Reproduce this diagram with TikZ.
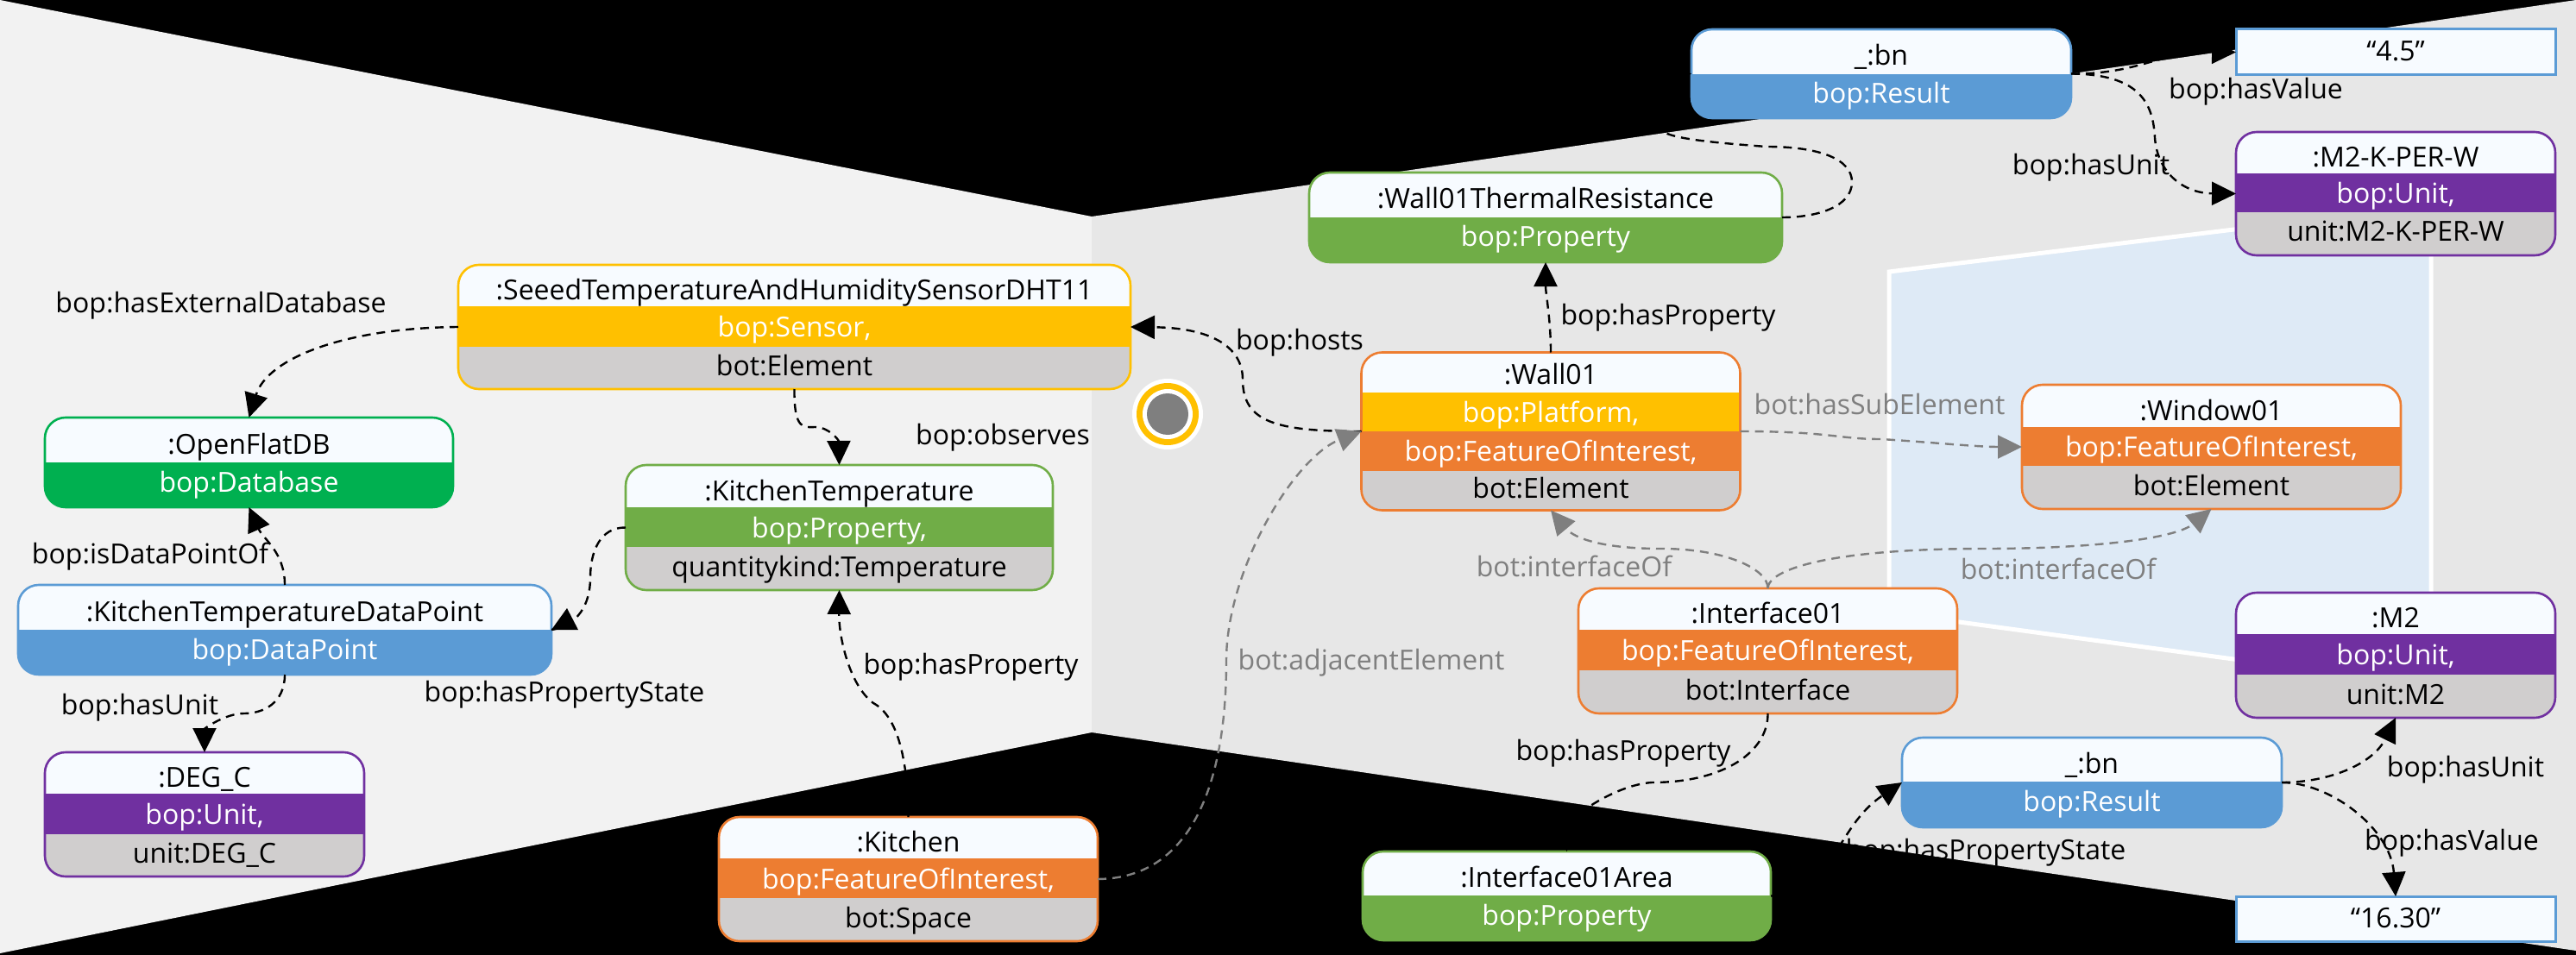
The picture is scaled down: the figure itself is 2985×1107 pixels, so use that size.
\documentclass[tikz,border=0pt]{standalone}
\usepackage{fontspec}
\setmainfont{Open Sans}
\usetikzlibrary{arrows.meta}
\definecolor{cOrange}{HTML}{ED7D31}
\definecolor{cYellow}{HTML}{FFC000}
\definecolor{cBlue}{HTML}{5B9BD5}
\definecolor{cGreen}{HTML}{70AD47}
\definecolor{cDbGreen}{HTML}{00B050}
\definecolor{cPurple}{HTML}{7030A0}
\definecolor{cBand}{HTML}{D0CECE}
\definecolor{cTop}{HTML}{F7FBFF}
\definecolor{cLeftWall}{HTML}{F2F2F2}
\definecolor{cRightWall}{HTML}{E7E7E7}
\definecolor{cWindow}{HTML}{DEEAF6}
\definecolor{cLink}{HTML}{7F7F7F}
\tikzset{
  objbox/.style={rectangle,rounded corners=24pt,line width=2.6pt,inner sep=0pt,outer sep=0pt,fill=cTop},
  litbox/.style={rectangle,line width=3pt,inner sep=0pt,outer sep=0pt,fill=cTop},
  rowtext/.style={inner sep=0pt,outer sep=0pt,font=\fontsize{32}{32}\selectfont,text height=22pt,text depth=6pt},
  lbl/.style={rowtext,yshift=-2pt},
  glbl/.style={rowtext,yshift=-2pt,text=cLink},
  linkbase/.style={line width=2.4pt,dash pattern=on 10pt off 7pt},
  link/.style={linkbase,-{Triangle[length=28pt,width=27pt]}},
  glink/.style={link,draw=cLink},
  wallline/.style={draw=white,line width=5pt,line join=miter,fill=cWindow},
}
% name x1 x2 y0 y1 y2 y3 border band1 | band2 t0 t1 t2
\newcommand{\tribox}[9]{%
  \def\bxN{#1}\def\bxXa{#2}\def\bxXb{#3}\def\bxYa{#4}\def\bxYb{#5}\def\bxYc{#6}\def\bxYd{#7}\def\bxB{#8}\def\bxC{#9}%
  \triboxrest}
\newcommand{\triboxrest}[4]{%
  \pgfmathsetmacro\bxW{\bxXb-\bxXa}\pgfmathsetmacro\bxH{\bxYd-\bxYa}%
  \pgfmathsetmacro\bxO{\bxYb-\bxYa}\pgfmathsetmacro\bxP{\bxYc-\bxYa}%
  \pgfmathsetmacro\bxCx{(\bxXa+\bxXb)/2}%
  \node[objbox,draw=\bxB,minimum width=\bxW pt,minimum height=\bxH pt,
    path picture={
      \fill[\bxC,sharp corners] ([yshift=-\bxO pt]path picture bounding box.north west) rectangle ([yshift=-\bxP pt]path picture bounding box.north east);
      \fill[#1,sharp corners] ([yshift=-\bxP pt]path picture bounding box.north west) rectangle (path picture bounding box.south east);
    }] (\bxN) at (\bxCx,{(\bxYa+\bxYd)/2}) {};
  \node[rowtext] (\bxN A) at (\bxCx,{(\bxYa+\bxYb)/2+8.5}) {#2};
  \node[rowtext,text=white] (\bxN B) at (\bxCx,{(\bxYb+\bxYc)/2+4}) {#3};
  \node[rowtext] (\bxN C) at (\bxCx,{(\bxYc+\bxYd)/2+1}) {#4};
}
% name x1 x2 y0 y1 y2 border t0 t1
\newcommand{\duobox}[9]{%
  \pgfmathsetmacro\bxW{#3-#2}\pgfmathsetmacro\bxH{#6-#4}\pgfmathsetmacro\bxO{#5-#4}%
  \pgfmathsetmacro\bxCx{(#2+#3)/2}%
  \node[objbox,draw=#7,minimum width=\bxW pt,minimum height=\bxH pt,
    path picture={
      \fill[#7,sharp corners] ([yshift=-\bxO pt]path picture bounding box.north west) rectangle (path picture bounding box.south east);
    }] (#1) at (\bxCx,{(#4+#6)/2}) {};
  \node[rowtext] (#1A) at (\bxCx,{(#4+#5)/2+8}) {#8};
  \node[rowtext,text=white] (#1B) at (\bxCx,{(#5+#6)/2}) {#9};
}
\newcommand{\litbox}[6]{%
  \pgfmathsetmacro\bxW{#3-#2}\pgfmathsetmacro\bxH{#5-#4}%
  \node[litbox,draw=cBlue,minimum width=\bxW pt,minimum height=\bxH pt] (#1) at ({(#2+#3)/2},{(#4+#5)/2}) {};
  \node[rowtext] (#1A) at ({(#2+#3)/2},{(#4+#5)/2+2}) {#6};
}
\begin{document}
\begin{tikzpicture}[x=1pt,y=-1pt]
\useasboundingbox (0,0) rectangle (2985,1107);
% room
\fill[black] (0,0) rectangle (2985,1107);
\fill[cLeftWall] (0,0) -- (1265,251) -- (1265,849) -- (0,1105) -- cycle;
\fill[cRightWall] (1265,251) -- (2985,0) -- (2985,1102) -- (1265,849) -- cycle;
\path[wallline] (2189,315) -- (2817,238) -- (2817,795) -- (2189,710) -- cycle;
% sensor mark
\fill[white] (1353,480) circle[radius=41];
\fill[cYellow] (1353,480) circle[radius=36];
\fill[white] (1353,480) circle[radius=29];
\fill[cLink] (1353,480) circle[radius=24];
% objects
\tribox{sensor}{531}{1310}{307}{355}{402}{451}{cYellow}{cYellow}{cBand}{:SeeedTemperatureAndHumiditySensorDHT11}{bop:Sensor,}{bot:Element}
\duobox{db}{52}{525}{484}{536}{588}{cDbGreen}{:OpenFlatDB}{bop:Database}
\tribox{ktemp}{725}{1220}{539}{588}{634}{684}{cGreen}{cGreen}{cBand}{:KitchenTemperature}{bop:Property,}{quantitykind:Temperature}
\duobox{dpoint}{21}{639}{678}{730}{782}{cBlue}{:KitchenTemperatureDataPoint}{bop:DataPoint}
\tribox{degc}{52}{422}{872}{920}{967}{1016}{cPurple}{cPurple}{cBand}{:DEG\_C}{bop:Unit,}{unit:DEG\_C}
\tribox{kitchen}{833}{1272}{947}{995}{1041}{1091}{cOrange}{cOrange}{cBand}{:Kitchen}{bop:FeatureOfInterest,}{bot:Space}
\duobox{bnA}{1960}{2400}{34}{86}{137}{cBlue}{\_:bn}{bop:Result}
\litbox{valA}{2591}{2961}{34}{87}{“4.5”}
\tribox{mkw}{2591}{2961}{153}{201}{246}{296}{cPurple}{cPurple}{cBand}{:M2-K-PER-W}{bop:Unit,}{unit:M2-K-PER-W}
\duobox{thermal}{1517}{2065}{200}{252}{304}{cGreen}{:Wall01ThermalResistance}{bop:Property}
% Wall01 has four rows
\node[objbox,draw=cOrange,minimum width=439pt,minimum height=183pt,
  path picture={
    \fill[cYellow,sharp corners] ([yshift=-46pt]path picture bounding box.north west) rectangle ([yshift=-91pt]path picture bounding box.north east);
    \fill[cOrange,sharp corners] ([yshift=-91pt]path picture bounding box.north west) rectangle ([yshift=-137pt]path picture bounding box.north east);
    \fill[cBand,sharp corners] ([yshift=-137pt]path picture bounding box.north west) rectangle (path picture bounding box.south east);
  }] (wall) at (1797,500) {};
\node[rowtext] (wallA) at (1797,437) {:Wall01};
\node[rowtext,text=white] (wallB) at (1797,481) {bop:Platform,};
\node[rowtext,text=white] (wallC) at (1797,526) {bop:FeatureOfInterest,};
\node[rowtext] (wallD) at (1797,569) {bot:Element};
\tribox{window}{2343}{2782}{446}{495}{540}{590}{cOrange}{cOrange}{cBand}{:Window01}{bop:FeatureOfInterest,}{bot:Element}
\tribox{iface}{1829}{2268}{682}{730}{777}{827}{cOrange}{cOrange}{cBand}{:Interface01}{bop:FeatureOfInterest,}{bot:Interface}
\tribox{mtwo}{2591}{2961}{687}{735}{782}{832}{cPurple}{cPurple}{cBand}{:M2}{bop:Unit,}{unit:M2}
\duobox{bnB}{2204}{2644}{855}{906}{959}{cBlue}{\_:bn}{bop:Result}
\duobox{area}{1579}{2052}{987}{1038}{1090}{cGreen}{:Interface01Area}{bop:Property}
\litbox{valB}{2591}{2961}{1039}{1091}{“16.30”}
% connectors
\draw[link] (sensor.west) .. controls (400,380) and (310,415) .. (db.north);
\draw[link] (sensor.south) .. controls (920,500) and (932,495) .. (945,495) .. controls (960,495) and (972,510) .. (ktemp.north);
\draw[linkbase] (ktemp.west) .. controls (695,611) and (684,640) .. (684,670) .. controls (684,700) and (670,725) .. (dpoint.east);
\fill[black] (657,705) -- (639,730) -- (670,730) -- cycle;
\draw[link] (dpoint.north) .. controls (330,640) and (305,625) .. (db.south);
\draw[link] (dpoint.south) .. controls (330,815) and (305,827) .. (283,827) .. controls (260,827) and (237,845) .. (degc.north);
\draw[link] (kitchen.north) .. controls (1052,880) and (1040,830) .. (1012,815) .. controls (985,795) and (972,740) .. (ktemp.south);
\draw[link] (wall.north) .. controls (1797,370) and (1791,340) .. (thermal.south);
\draw[link] (thermal.east) .. controls (2105,252) and (2146,240) .. (2146,211) .. controls (2146,185) and (2110,170) .. (2047,170) .. controls (1980,165) and (1930,160) .. (1925,150) .. controls (1910,120) and (1925,86) .. (bnA.west);
\draw[link] (wall.west) .. controls (1480,500) and (1440,490) .. (1440,440) .. controls (1440,400) and (1400,380) .. (sensor.east);
\draw[glink] (kitchen.east) .. controls (1385,1018) and (1421,900) .. (1421,766) .. controls (1421,660) and (1500,530) .. (wall.west);
\draw[glink] (wall.east) .. controls (2120,500) and (2130,509) .. (2179,509) .. controls (2230,512) and (2290,518) .. (window.west);
\draw[glink] (iface.north) .. controls (2049,660) and (2000,636) .. (1925,636) .. controls (1860,636) and (1825,625) .. (wall.south);
\draw[glink] (iface.north) .. controls (2049,660) and (2120,636) .. (2300,636) .. controls (2420,636) and (2520,625) .. (window.south);
\draw[link] (bnA.east) .. controls (2480,86) and (2500,60) .. (valA.west);
\draw[link] (bnA.east) .. controls (2480,86) and (2495,120) .. (2497,160) .. controls (2500,200) and (2530,224) .. (mkw.west);
\draw[link] (iface.south) .. controls (2049,870) and (2000,907) .. (1914,907) .. controls (1870,910) and (1815,950) .. (area.north);
\draw[link] (area.east) .. controls (2125,1038) and (2125,960) .. (bnB.west);
\draw[link] (bnB.east) .. controls (2700,907) and (2750,885) .. (mtwo.south);
\draw[link] (bnB.east) .. controls (2700,907) and (2770,960) .. (valB.north);
% labels
\node[lbl] (l1) at (256,352) {bop:hasExternalDatabase};
\node[lbl] (l2) at (1162,505) {bop:observes};
\node[lbl] (l3) at (174,643) {bop:isDataPointOf};
\node[lbl] (l4) at (162,818) {bop:hasUnit};
\node[lbl] (l5) at (654,803) {bop:hasPropertyState};
\node[lbl] (l6) at (1125,771) {bop:hasProperty};
\node[lbl] (l7) at (1506,395) {bop:hosts};
\node[lbl] (l8) at (1933,366) {bop:hasProperty};
\node[lbl] (l9) at (2614,105) {bop:hasValue};
\node[lbl] (l10) at (2423,193) {bop:hasUnit};
\node[glbl] (l11) at (2178,470) {bot:hasSubElement};
\node[glbl] (l12) at (1589,766) {bot:adjacentElement};
\node[glbl] (l13) at (1824,658) {bot:interfaceOf};
\node[glbl] (l14) at (2385,661) {bot:interfaceOf};
\node[lbl] (l15) at (1881,871) {bop:hasProperty};
\node[lbl] (l16) at (2857,890) {bop:hasUnit};
\node[lbl] (l17) at (2301,986) {bop:hasPropertyState};
\node[lbl] (l18) at (2841,975) {bop:hasValue};
\end{tikzpicture}
\end{document}
